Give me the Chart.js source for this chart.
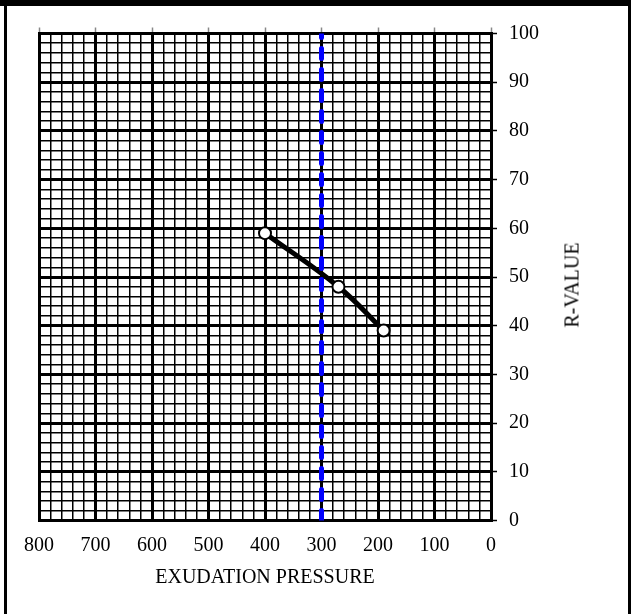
<!DOCTYPE html>
<html>
<head>
<meta charset="utf-8">
<script src="https://cdn.jsdelivr.net/npm/chart.js@4"></script>
<style>
  html, body { margin: 0; padding: 0; background: #fff; overflow: hidden; }
  #wrap { position: relative; width: 631px; height: 614px; }
  .frame { position: absolute; background: #000; pointer-events: none; }
  #ytitle {
    position: absolute; left: 572px; top: 285px;
    transform: translate(-50%, -50%) rotate(-90deg);
    font: 20px "Liberation Serif", "Times New Roman", serif;
    white-space: nowrap; color: #000;
  }
</style>
</head>
<body>
<div id="wrap">
  <canvas id="myChart" width="631" height="614"></canvas>
  <div class="frame" style="left:0;top:0;width:631px;height:6px"></div>
  <div class="frame" style="left:4px;top:0;width:3px;height:614px"></div>
  <div class="frame" style="left:628px;top:0;width:3px;height:614px"></div>
  <div id="ytitle">R-VALUE</div>
</div>
<script>
// measured points
const pressure = [400, 270, 190];
const rValue = [59, 48, 39];

// design line at 300
const designX = [300, 300];
const designY = [0, 100];

// axes
const xRange = [0, 800];
const yRange = [0, 100];
const xMajor = 100, xMinor = 20;
const yMajor = 10, yMinor = 2;

const font = { family: '"Liberation Serif", "Times New Roman", serif', size: 20 };

function gridWidth(major, lo, hi) {
  return c => {
    const v = c.tick.value;
    if (v === lo || v === hi) return 3;
    return v % major === 0 ? 3 : 1.5;
  };
}

const ctx = document.getElementById('myChart');

new Chart(ctx, {
  type: 'scatter',
  data: {
    datasets: [
      {
        data: pressure.map((p, i) => ({ x: p, y: rValue[i] })),
        showLine: true,
        borderColor: '#000',
        borderWidth: 5,
        tension: 0.4,
        pointRadius: 6,
        pointBorderWidth: 2,
        pointBackgroundColor: '#fff',
        pointBorderColor: '#000',
        order: 2
      },
      {
        data: designX.map((p, i) => ({ x: p, y: designY[i] })),
        showLine: true,
        borderColor: '#0000ff',
        borderWidth: 5,
        borderDash: [10, 11],
        borderCapStyle: 'round',
        pointRadius: 0,
        order: 1
      }
    ]
  },
  options: {
    responsive: false,
    animation: false,
    layout: {
      padding: { top: 27.5, left: 39, right: 80, bottom: 24.5 }
    },
    plugins: {
      legend: { display: false },
      tooltip: { enabled: false }
    },
    scales: {
      x: {
        type: 'linear',
        position: 'bottom',
        reverse: true,
        min: xRange[0],
        max: xRange[1],
        ticks: {
          stepSize: xMinor,
          autoSkip: false,
          maxRotation: 0,
          minRotation: 0,
          padding: 13,
          color: '#000',
          font: font,
          callback: v => (v % xMajor === 0 ? v : '')
        },
        grid: {
          color: '#000',
          lineWidth: gridWidth(xMajor, xRange[0], xRange[1]),
          drawTicks: false
        },
        border: { display: true, color: '#000', width: 3 },
        title: {
          display: true,
          text: 'EXUDATION PRESSURE',
          color: '#000',
          font: font,
          padding: { top: -5, bottom: 0 }
        }
      },
      x2: {
        type: 'linear',
        position: 'top',
        reverse: true,
        min: xRange[0],
        max: xRange[1],
        ticks: { display: false, stepSize: xMajor },
        grid: {
          drawOnChartArea: false,
          drawTicks: true,
          tickLength: 6,
          tickColor: '#888',
          tickWidth: 1.5
        },
        border: { display: true, color: '#000', width: 3 }
      },
      y: {
        type: 'linear',
        position: 'right',
        min: yRange[0],
        max: yRange[1],
        ticks: {
          stepSize: yMinor,
          autoSkip: false,
          padding: 12,
          color: '#000',
          font: font,
          callback: v => (v % yMajor === 0 ? v : '')
        },
        grid: {
          color: '#000',
          lineWidth: gridWidth(yMajor, yRange[0], yRange[1]),
          tickLength: 6,
          tickWidth: 1.5,
          tickColor: c => (c.tick.value % yMajor === 0 ? '#000' : 'rgba(0,0,0,0)')
        },
        border: { display: true, color: '#000', width: 3 }
      }
    }
  }
});
</script>
</body>
</html>
